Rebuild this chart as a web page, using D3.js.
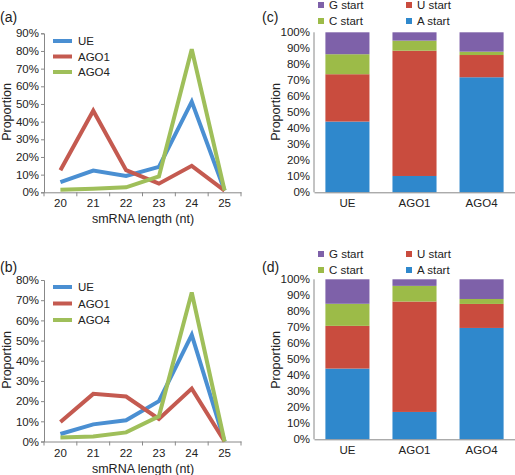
<!DOCTYPE html>
<html><head><meta charset="utf-8">
<script src="https://cdn.jsdelivr.net/npm/d3@7"></script>
<style>
body{margin:0;background:#fff;}
text{font-family:"Liberation Sans",Arial,sans-serif;fill:#222;}
</style></head>
<body>
<svg id="c" width="515" height="475"></svg>
<script>
// ---- data ----
const lengths = ["20","21","22","23","24","25"];
const lineSeries = ["UE","AGO1","AGO4"];
const aUE   = [0.057,0.123,0.093,0.144,0.513,0.010];
const aAGO1 = [0.125,0.462,0.125,0.049,0.150,0.010];
const aAGO4 = [0.015,0.020,0.028,0.090,0.810,0.010];
const bUE   = [0.037,0.085,0.105,0.200,0.528,0.000];
const bAGO1 = [0.097,0.236,0.223,0.112,0.262,0.000];
const bAGO4 = [0.020,0.025,0.045,0.125,0.738,0.000];
const aTicks = [0,0.1,0.2,0.3,0.4,0.5,0.6,0.7,0.8,0.9];
const bTicks = [0,0.1,0.2,0.3,0.4,0.5,0.6,0.7,0.8];

const groups = ["UE","AGO1","AGO4"];
const bases = ["A start","U start","C start","G start"];
const cA = [0.442,0.102,0.719];
const cU = [0.296,0.783,0.139];
const cC = [0.125,0.063,0.021];
const cG = [0.137,0.052,0.121];
const dA = [0.442,0.171,0.696];
const dU = [0.267,0.690,0.150];
const dC = [0.138,0.098,0.031];
const dG = [0.153,0.041,0.123];
const pctTicks = [0,0.1,0.2,0.3,0.4,0.5,0.6,0.7,0.8,0.9,1.0];

const lineColors = {"UE":"#4a8fd2","AGO1":"#c45a50","AGO4":"#9fbf5a"};
const baseColors = {"A start":"#2f88cc","U start":"#c94c3e","C start":"#9cbb48","G start":"#7e61a9"};

const svg = d3.select("#c");
const fmt = d3.format(".0%");

function styleAxis(g, fs){
  g.selectAll("path,line").attr("stroke","#888").attr("stroke-width",1);
  g.selectAll("text").attr("font-size",fs).attr("fill","#111");
}

function linePanel(opt){
  const x = d3.scaleBand().domain(lengths).range([44,241]);
  const y = d3.scaleLinear().domain([0,opt.max]).range([opt.y0,opt.yTop]);
  const g = svg.append("g");
  const ya = g.append("g").attr("transform","translate(44,0)")
    .call(d3.axisLeft(y).tickValues(opt.ticks).tickFormat(fmt).tickSize(3).tickPadding(2));
  styleAxis(ya,"11.5px");
  const xa = g.append("g").attr("transform",`translate(0,${opt.y0})`)
    .call(d3.axisBottom(x).tickSize(0).tickPadding(7));
  styleAxis(xa,"11.5px");
  g.selectAll("line.sep").data(d3.range(lengths.length+1)).join("line")
    .attr("x1",i=>44+i*x.step()).attr("x2",i=>44+i*x.step())
    .attr("y1",opt.y0).attr("y2",opt.y0+4).attr("stroke","#888");
  const ln = d3.line().x((d,i)=>x(lengths[i])+x.bandwidth()/2).y(d=>y(d));
  opt.series.forEach((s,k)=>{
    g.append("path").datum(s).attr("d",ln).attr("fill","none")
      .attr("stroke",lineColors[lineSeries[k]]).attr("stroke-width",4).attr("stroke-linejoin","miter");
  });
  lineSeries.forEach((n,k)=>{
    const ly = opt.legY + k*opt.legStep;
    g.append("line").attr("x1",53).attr("x2",72).attr("y1",ly).attr("y2",ly)
      .attr("stroke",lineColors[n]).attr("stroke-width",4);
    g.append("text").attr("x",78).attr("y",ly+4.2).attr("font-size","11.5px").text(n);
  });
  g.append("text").attr("x",143).attr("y",opt.y0+31).attr("text-anchor","middle")
    .attr("font-size","12.5px").text("smRNA length (nt)");
  g.append("text").attr("transform",`translate(11,${opt.titleY}) rotate(-90)`)
    .attr("text-anchor","middle").attr("font-size","12.5px").text("Proportion");
  g.append("text").attr("x",0).attr("y",opt.tagY).attr("font-size","14px").text(opt.tag);
}

function barPanel(opt){
  const x = d3.scaleBand().domain(groups).range([314,515]).paddingInner(0.343).paddingOuter(0.17);
  const y = d3.scaleLinear().domain([0,1]).range([opt.y0,opt.yTop]);
  const g = svg.append("g");
  const rows = groups.map((gr,i)=>({grp:gr,"A start":opt.A[i],"U start":opt.U[i],"C start":opt.C[i],"G start":opt.G[i]}));
  const stack = d3.stack().keys(bases)(rows);
  stack.forEach(layer=>{
    g.selectAll(null).data(layer).join("rect")
      .attr("x",d=>x(d.data.grp)).attr("width",x.bandwidth())
      .attr("y",d=>y(d[1])).attr("height",d=>y(d[0])-y(d[1]))
      .attr("fill",baseColors[layer.key]);
  });
  const ya = g.append("g").attr("transform","translate(314,0)")
    .call(d3.axisLeft(y).tickValues(pctTicks).tickFormat(fmt).tickSize(0).tickPadding(4));
  styleAxis(ya,"11.5px");
  ya.select("path").attr("d",`M0,${opt.y0}V${opt.yTop}`);
  const xa = g.append("g").attr("transform",`translate(0,${opt.y0})`)
    .call(d3.axisBottom(x).tickSize(0).tickPadding(7));
  styleAxis(xa,"11.5px");
  g.append("text").attr("transform",`translate(280,${opt.titleY}) rotate(-90)`)
    .attr("text-anchor","middle").attr("font-size","12.5px").text("Proportion");
  g.append("text").attr("x",262).attr("y",opt.tagY).attr("font-size","14px").text(opt.tag);
  const leg = [["G start",321,opt.legY],["U start",409,opt.legY],["C start",321,opt.legY+16],["A start",409,opt.legY+16]];
  leg.forEach(([n,lx,ly])=>{
    g.append("rect").attr("x",lx-3).attr("y",ly-3).attr("width",6).attr("height",6).attr("fill",baseColors[n]);
    g.append("text").attr("x",lx+8).attr("y",ly+4.2).attr("font-size","11.5px").text(n);
  });
}

linePanel({max:0.9,ticks:aTicks,y0:192.3,yTop:33.3,series:[aUE,aAGO1,aAGO4],legY:41,legStep:15.5,titleY:112,tagY:22,tag:"(a)"});
linePanel({max:0.8,ticks:bTicks,y0:441.5,yTop:280,series:[bUE,bAGO1,bAGO4],legY:287,legStep:16.5,titleY:360,tagY:272,tag:"(b)"});
barPanel({A:cA,U:cU,C:cC,G:cG,y0:192.3,yTop:32.3,legY:5,titleY:112,tagY:22,tag:"(c)"});
barPanel({A:dA,U:dU,C:dC,G:dG,y0:439.3,yTop:279.3,legY:254,titleY:360,tagY:272,tag:"(d)"});
</script>
</body></html>
